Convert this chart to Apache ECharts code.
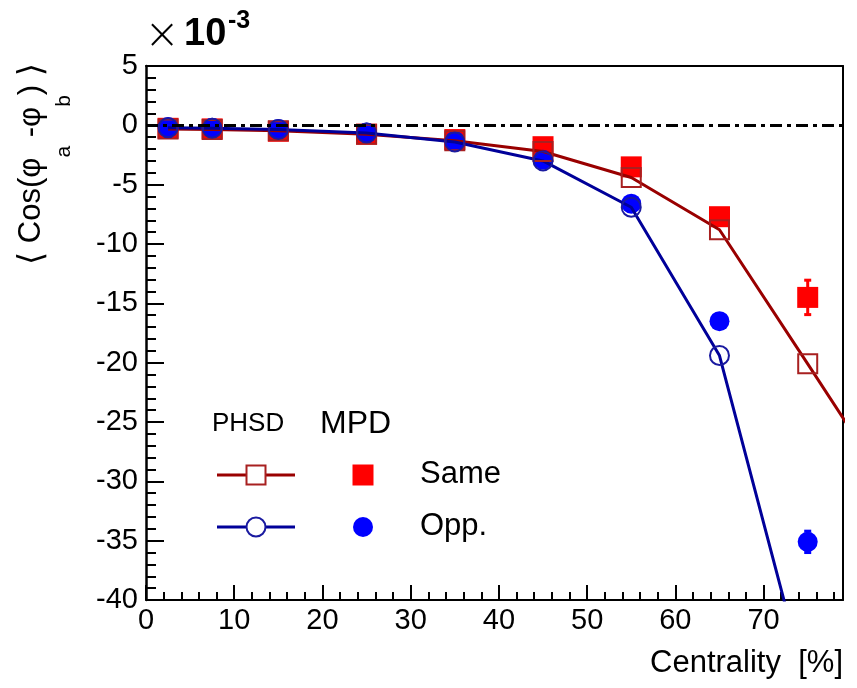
<!DOCTYPE html>
<html><head><meta charset="utf-8">
<script src="https://cdn.jsdelivr.net/npm/echarts@6/dist/echarts.min.js"></script>
<style>html,body{margin:0;padding:0;background:#fff}#c{width:857px;height:688px}</style>
</head><body><div id="c"></div>
<script>
// ---- data (values in units of 1e-3) ----
const centrality = [2.5, 7.5, 15, 25, 35, 45, 55, 65, 75];
const mpdSame    = [-0.25, -0.3, -0.5, -0.75, -1.2, -1.8, -3.5, -7.7, -14.5];
const mpdSameErr = [0.1, 0.1, 0.1, 0.1, 0.15, 0.2, 0.3, 0.5, 1.45];
const mpdOpp     = [-0.15, -0.2, -0.3, -0.6, -1.3, -2.9, -6.6, -16.5, -35.1];
const mpdOppErr  = [0.1, 0.1, 0.1, 0.1, 0.15, 0.2, 0.3, 0.6, 0.9];
const phsdSameX  = [2.5, 7.5, 15, 25, 35, 45, 55, 65, 75, 85];
const phsdSame   = [-0.3, -0.35, -0.45, -0.75, -1.3, -2.2, -4.4, -8.8, -20.1, -31.5];
const phsdOppX   = [2.5, 7.5, 15, 25, 35, 45, 55, 65, 75];
const phsdOpp    = [-0.2, -0.25, -0.35, -0.65, -1.4, -3.0, -6.9, -19.4, -47.6];
const xTickStep = 10, yTickStep = 5;

const FONT = 'Liberation Sans, Arial, Helvetica, sans-serif';
const pairs = (xs, ys) => xs.map((x, i) => [x, ys[i]]);
const triples = (xs, ys, es) => xs.map((x, i) => [x, ys[i], es[i]]);

function errRender(color) {
  return function (params, api) {
    const x = api.value(0), y = api.value(1), e = api.value(2);
    const t = api.coord([x, y + e]), b = api.coord([x, y - e]);
    const w = 3.5, st = { stroke: color, lineWidth: 3 };
    return { type: 'group', children: [
      { type: 'line', shape: { x1: t[0], y1: t[1], x2: b[0], y2: b[1] }, style: st },
      { type: 'line', shape: { x1: t[0] - w, y1: t[1], x2: t[0] + w, y2: t[1] }, style: st },
      { type: 'line', shape: { x1: b[0] - w, y1: b[1], x2: b[0] + w, y2: b[1] }, style: st }
    ]};
  };
}

const blackLine = { color: '#000', width: 2 };
const chart = echarts.init(document.getElementById('c'), null, { renderer: 'canvas' });
chart.setOption({
  animation: false,
  backgroundColor: '#fff',
  grid: { left: 146, right: 14, top: 66, bottom: 88, outerBoundsMode: 'none' },
  xAxis: [{
    type: 'value', min: 0, max: 79, interval: xTickStep, position: 'bottom',
    axisLine: { onZero: false, lineStyle: blackLine },
    axisTick: { inside: true, length: 15, lineStyle: blackLine },
    minorTick: { show: true, splitNumber: 5, length: 8, lineStyle: blackLine },
    splitLine: { show: false }, minorSplitLine: { show: false },
    axisLabel: { fontSize: 29, color: '#000', margin: 6, fontFamily: FONT, showMaxLabel: false },
    name: 'Centrality  [%]', nameLocation: 'end', nameGap: 0,
    nameTextStyle: { fontSize: 31, color: '#000', fontFamily: FONT, align: 'right', verticalAlign: 'top', padding: [48, 0, 0, 0] }
  }, {
    type: 'value', min: 0, max: 79, position: 'top',
    axisLine: { show: true, onZero: false, lineStyle: blackLine },
    axisTick: { show: false }, axisLabel: { show: false }, splitLine: { show: false }
  }],
  yAxis: [{
    type: 'value', min: -40, max: 5, interval: yTickStep, position: 'left',
    axisLine: { show: true, onZero: false, lineStyle: { color: '#000', width: 2.5 } },
    axisTick: { show: true, inside: true, length: 18, lineStyle: blackLine },
    minorTick: { show: true, splitNumber: 5, length: 10, lineStyle: blackLine },
    splitLine: { show: false }, minorSplitLine: { show: false },
    axisLabel: { fontSize: 29, color: '#000', margin: 8, fontFamily: FONT }
  }, {
    type: 'value', min: -40, max: 5, position: 'right',
    axisLine: { show: true, onZero: false, lineStyle: blackLine },
    axisTick: { show: false }, axisLabel: { show: false }, splitLine: { show: false }
  }],
  series: [
    { type: 'scatter', data: [], z: 1,
      markLine: { silent: true, symbol: 'none', label: { show: false },
        lineStyle: { color: '#000', width: 3, type: [12, 5, 4, 5] },
        data: [{ yAxis: 0 }] } },
    { type: 'custom', name: 'errSame', z: 2, renderItem: errRender('#ff0000'),
      data: triples(centrality, mpdSame, mpdSameErr), encode: { x: 0, y: 1 } },
    { type: 'custom', name: 'errOpp', z: 2, renderItem: errRender('#0000ff'),
      data: triples(centrality, mpdOpp, mpdOppErr), encode: { x: 0, y: 1 } },
    { type: 'scatter', name: 'MPD Same', z: 3, symbol: 'rect', symbolSize: 21,
      itemStyle: { color: '#ff0000', opacity: 1 }, data: pairs(centrality, mpdSame) },
    { type: 'scatter', name: 'MPD Opp.', z: 3, symbol: 'circle', symbolSize: 20,
      itemStyle: { color: '#0000ff', opacity: 1 }, data: pairs(centrality, mpdOpp) },
    { type: 'line', name: 'PHSD Same', z: 4, clip: true, symbol: 'rect', symbolSize: 19, showAllSymbol: true,
      lineStyle: { color: '#990000', width: 3 },
      itemStyle: { color: 'rgba(0,0,0,0)', borderColor: '#a82020', borderWidth: 2 },
      data: pairs(phsdSameX, phsdSame) },
    { type: 'line', name: 'PHSD Opp.', z: 4, clip: true, symbol: 'circle', symbolSize: 19, showAllSymbol: true,
      lineStyle: { color: '#000099', width: 3 },
      itemStyle: { color: 'rgba(0,0,0,0)', borderColor: '#1a1aa0', borderWidth: 2 },
      data: pairs(phsdOppX, phsdOpp) }
  ],
  graphic: [
    // y-axis title
    { type: 'text', x: 16, y: 164, rotation: Math.PI / 2,
      style: { text: '{a|\u27E8}{m| Cos(\u03C6}{s|a}{m| -\u03C6}{s|b}{m|) }{a|\u27E9}', align: 'center', verticalAlign: 'top',
        rich: {
          m: { fontSize: 31, fontFamily: FONT, fill: '#000', lineHeight: 34, verticalAlign: 'top' },
          a: { fontSize: 34, fontFamily: 'DejaVu Sans', fontWeight: 'normal', fill: '#000', lineHeight: 34, verticalAlign: 'top' },
          s: { fontSize: 21, fontFamily: FONT, fill: '#000', lineHeight: 22, verticalAlign: 'top', padding: [38, 0, 0, 0] }
        } } },
    // exponent
    { type: 'text', x: 162, y: 37, style: { text: '\u00D7', fontSize: 42, fontFamily: 'DejaVu Sans', fontWeight: 200, fill: '#000', align: 'center', verticalAlign: 'middle' } },
    { type: 'text', x: 184, y: 35, style: { text: '10', fontSize: 38, fontWeight: 'bold', fontFamily: FONT, fill: '#000', align: 'left', verticalAlign: 'middle' } },
    { type: 'text', x: 228, y: 21, style: { text: '-3', fontSize: 25, fontWeight: 'bold', fontFamily: FONT, fill: '#000', align: 'left', verticalAlign: 'middle' } },
    // legend
    { type: 'text', x: 212, y: 424, style: { text: 'PHSD', fontSize: 26, fontFamily: FONT, fill: '#000', align: 'left', verticalAlign: 'middle' } },
    { type: 'text', x: 320, y: 424, style: { text: 'MPD', fontSize: 32, fontFamily: FONT, fill: '#000', align: 'left', verticalAlign: 'middle' } },
    { type: 'line', shape: { x1: 217, y1: 475, x2: 295, y2: 475 }, style: { stroke: '#990000', lineWidth: 3 } },
    { type: 'rect', shape: { x: 246.5, y: 465.5, width: 19, height: 19 }, style: { fill: '#fff', stroke: '#a82020', lineWidth: 2 } },
    { type: 'rect', shape: { x: 352.5, y: 464.5, width: 21, height: 21 }, style: { fill: '#ff0000' } },
    { type: 'text', x: 420, y: 474, style: { text: 'Same', fontSize: 31, fontFamily: FONT, fill: '#000', align: 'left', verticalAlign: 'middle' } },
    { type: 'line', shape: { x1: 217, y1: 527, x2: 295, y2: 527 }, style: { stroke: '#000099', lineWidth: 3 } },
    { type: 'circle', shape: { cx: 256, cy: 527, r: 9.5 }, style: { fill: '#fff', stroke: '#1a1aa0', lineWidth: 2 } },
    { type: 'circle', shape: { cx: 363, cy: 527, r: 10 }, style: { fill: '#0000ff' } },
    { type: 'text', x: 420, y: 526, style: { text: 'Opp.', fontSize: 31, fontFamily: FONT, fill: '#000', align: 'left', verticalAlign: 'middle' } }
  ]
});
</script></body></html>
